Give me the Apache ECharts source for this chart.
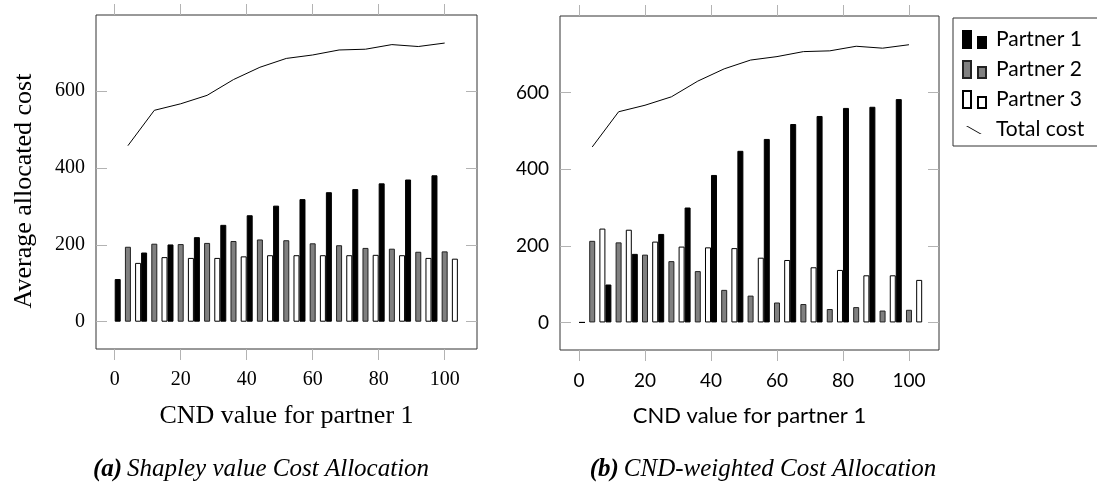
<!DOCTYPE html>
<html>
<head>
<meta charset="utf-8">
<script src="https://cdn.jsdelivr.net/npm/echarts@6/dist/echarts.min.js"></script>
<style>
html,body{margin:0;padding:0;background:#fff;}
#chart{width:1097px;height:482px;}
</style>
</head>
<body>
<div id="chart"></div>
<script>
// ---- data ----
const xValues = [4, 12, 20, 28, 36, 44, 52, 60, 68, 76, 84, 92, 100];
const shapleyP1 = [111, 180, 201, 220, 252, 277, 302, 319, 337, 345, 360, 370, 381];
const shapleyP2 = [195, 203, 202, 205, 210, 214, 212, 204, 199, 192, 190, 182, 183];
const shapleyP3 = [153, 168, 166, 166, 170, 173, 173, 173, 173, 174, 173, 166, 164];
const totalCost = [458, 550, 567, 589, 630, 662, 685, 694, 707, 709, 721, 716, 725];
const cndP1 = [0, 99, 179, 231, 300, 385, 448, 479, 518, 539, 560, 563, 583];
const cndP2 = [213, 209, 177, 160, 134, 85, 70, 52, 48, 35, 40, 31, 33];
const cndP3 = [245, 242, 211, 198, 196, 194, 169, 163, 144, 137, 123, 123, 111];
const xTicks = [0, 20, 40, 60, 80, 100];
const yTicks = [0, 200, 400, 600];
const seriesNames = ['Partner 1', 'Partner 2', 'Partner 3', 'Total cost'];
const xTitle = 'CND value for partner 1';
const yTitle = 'Average allocated cost';
const captionA = ['(a)', 'Shapley value Cost Allocation'];
const captionB = ['(b)', 'CND-weighted Cost Allocation'];

const pairs = arr => arr.map((v, i) => [xValues[i], v]);

const SERIF = 'Liberation Serif';
const SANS = 'Lato';
const tickColor = '#b3b3b3';

function bottomX(gridIndex, min, max, font, fontSize, nameSize, nameGap) {
  return {
    type: 'value', gridIndex, position: 'bottom', min, max,
    splitLine: {show: false}, axisLine: {show: false, onZero: false},
    axisTick: {show: true, inside: false, length: 11, customValues: xTicks, lineStyle: {color: tickColor, width: 1}},
    axisLabel: {show: true, customValues: xTicks, margin: 21, color: '#000', fontFamily: font, fontSize: fontSize},
    name: xTitle, nameLocation: 'middle', nameGap: nameGap,
    nameTextStyle: {color: '#000', fontFamily: font, fontSize: nameSize}
  };
}
function topX(gridIndex, min, max) {
  return {
    type: 'value', gridIndex, position: 'top', min, max,
    splitLine: {show: false}, axisLine: {show: false, onZero: false},
    axisTick: {show: true, inside: false, length: 11, customValues: xTicks, lineStyle: {color: tickColor, width: 1}},
    axisLabel: {show: false}
  };
}
function leftY(gridIndex, min, max, font, fontSize) {
  return {
    type: 'value', gridIndex, position: 'left', min, max,
    splitLine: {show: false}, axisLine: {show: false, onZero: false},
    axisTick: {show: true, inside: true, length: 11, customValues: yTicks, lineStyle: {color: tickColor, width: 1}},
    axisLabel: {show: true, customValues: yTicks, margin: 11, color: '#000', fontFamily: font, fontSize: fontSize}
  };
}
function rightY(gridIndex, min, max) {
  return {
    type: 'value', gridIndex, position: 'right', min, max,
    splitLine: {show: false}, axisLine: {show: false, onZero: false},
    axisTick: {show: true, inside: true, length: 11, customValues: yTicks, lineStyle: {color: tickColor, width: 1}},
    axisLabel: {show: false}
  };
}

const barStyles = [
  {color: '#000000', borderColor: '#000000', borderWidth: 1},
  {color: '#808080', borderColor: '#222222', borderWidth: 1},
  {color: '#ffffff', borderColor: '#000000', borderWidth: 1}
];

function barSeries(name, data, style, xi, yi) {
  return {
    type: 'bar', name, data: pairs(data), xAxisIndex: xi, yAxisIndex: yi,
    barWidth: 6, barGap: '70%', itemStyle: style, silent: true
  };
}
function lineSeries(data, xi, yi) {
  return {
    type: 'line', name: seriesNames[3], data: pairs(data), xAxisIndex: xi, yAxisIndex: yi,
    symbol: 'none', lineStyle: {color: '#000', width: 1}, itemStyle: {color: '#000'}, z: 5, silent: true
  };
}
function caption(parts, cx) {
  return {
    left: cx, top: 452, textAlign: 'center',
    text: '{b|' + parts[0] + '} {i|' + parts[1] + '}',
    textStyle: {fontWeight: 'normal', rich: {
      b: {fontFamily: SERIF, fontStyle: 'italic', fontWeight: 'bold', fontSize: 25, color: '#000'},
      i: {fontFamily: SERIF, fontStyle: 'italic', fontWeight: 'normal', fontSize: 25, color: '#000'}
    }}
  };
}

const chart = echarts.init(document.getElementById('chart'), null, {renderer: 'canvas'});
const barIcon = 'path://M0,0 H8 V17 H0 Z M15,6 H23 V17 H15 Z';
const lineIcon = 'path://M0,0 M23,17 M3,5 L4.6,5 L18.6,13 L17,13 Z';

chart.setOption({
  animation: false,
  backgroundColor: '#fff',
  grid: [
    {left: 96, top: 15, width: 381, height: 334, show: true, borderColor: '#333', borderWidth: 1, backgroundColor: 'transparent'},
    {left: 560, top: 16, width: 379, height: 334, show: true, borderColor: '#333', borderWidth: 1, backgroundColor: 'transparent'}
  ],
  xAxis: [
    bottomX(0, -5.67, 109.8, SERIF, 20, 26, 54),
    topX(0, -5.67, 109.8),
    bottomX(1, -5.76, 109.1, SANS, 19, 22, 55),
    topX(1, -5.76, 109.1)
  ],
  yAxis: [
    leftY(0, -71, 798, SERIF, 20),
    rightY(0, -71, 798),
    leftY(1, -72, 800, SANS, 19),
    rightY(1, -72, 800)
  ],
  graphic: [{
    type: 'text', x: 24, y: 191, rotation: Math.PI / 2,
    style: {text: yTitle, fill: '#000', font: '26px "Liberation Serif"', textAlign: 'center', textVerticalAlign: 'middle'}
  }],
  legend: {
    show: true, orient: 'vertical', left: 953, top: 18,
    padding: [11, 14, 6, 9], itemGap: 9, itemWidth: 23, itemHeight: 17,
    borderColor: '#333', borderWidth: 1, backgroundColor: '#fff',
    selectedMode: false,
    textStyle: {fontFamily: SANS, fontSize: 21, color: '#000', padding: [0, 0, 0, 5]},
    data: [
      {name: seriesNames[0], icon: barIcon},
      {name: seriesNames[1], icon: barIcon},
      {name: seriesNames[2], icon: barIcon},
      {name: seriesNames[3], icon: lineIcon}
    ]
  },
  title: [caption(captionA, 256), caption(captionB, 758)],
  series: [
    barSeries(seriesNames[0], shapleyP1, barStyles[0], 0, 0),
    barSeries(seriesNames[1], shapleyP2, barStyles[1], 0, 0),
    barSeries(seriesNames[2], shapleyP3, barStyles[2], 0, 0),
    lineSeries(totalCost, 0, 0),
    barSeries(seriesNames[0], cndP1, barStyles[0], 2, 2),
    barSeries(seriesNames[1], cndP2, barStyles[1], 2, 2),
    barSeries(seriesNames[2], cndP3, barStyles[2], 2, 2),
    lineSeries(totalCost, 2, 2)
  ]
});
</script>
</body>
</html>
